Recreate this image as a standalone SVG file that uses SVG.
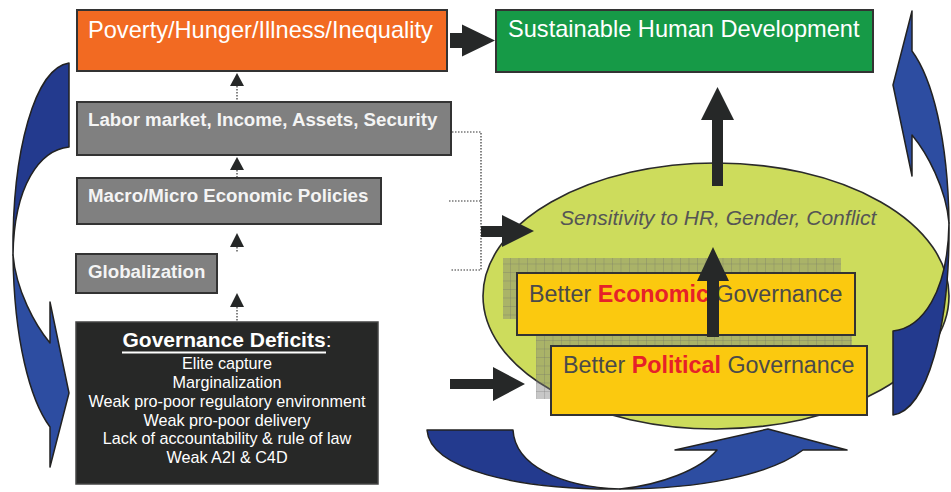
<svg xmlns="http://www.w3.org/2000/svg" width="951" height="492" viewBox="0 0 951 492">
  <style>
    text { font-family: "Liberation Sans", Arial, sans-serif; }
    .box { stroke: #333; stroke-width: 2; }
    .head { fill: #262828; }
    .dots { stroke: #333; stroke-width: 1.2; stroke-dasharray: 1.5 1.5; fill: none; }
    .white { fill: #fff; }
    .gray-bold { fill: #f4f4f4; font-weight: bold; font-size: 18.7px; }
    .gov { fill: #fff; font-size: 16.2px; text-anchor: middle; }
    .yel { fill: #4a4a4a; font-size: 23.3px; }
    .red { fill: #e62129; font-weight: bold; }
    .blue-back { fill: #233a8e; stroke: #222; stroke-width: 1.5; stroke-linejoin: round; }
    .blue-front { fill: #2d4da1; stroke: #222; stroke-width: 1.5; stroke-linejoin: round; }
    .shade { fill: #7a7a7a; fill-opacity: 0.42; }
  </style>
  <defs>
    <pattern id="grid" width="8.5" height="8.5" patternUnits="userSpaceOnUse">
      <path d="M0,0.5 H8.5 M0.5,0 V8.5" stroke="#666" stroke-opacity="0.28" stroke-width="0.9" fill="none"/>
    </pattern>
    <!-- curved arrow along the left edge: back band + front band with head -->
    <g id="curved-arrow">
      <path class="blue-back" d="M69,63 L69,147 C40,150 14,185 13,255 C12,150 35,68 69,63 Z"/>
      <path class="blue-front" d="M13,255 C16,290 35,325 50,343 L50,302 L69,393 L50,467 L50,427 C30,400 14,340 13,255 Z"/>
    </g>
  </defs>

  <!-- circular feedback arrows -->
  <g id="loop-left">
    <use href="#curved-arrow"/>
  </g>

  <!-- governance ellipse -->
  <g id="ellipse">
    <ellipse cx="716" cy="296" rx="233" ry="133" fill="#cddc5c" stroke="#2a2a2a" stroke-width="1.6"/>
    <text x="560" y="225" font-size="21px" font-style="italic" fill="#555">Sensitivity to HR, Gender, Conflict</text>
  </g>

  <g id="economic">
    <rect class="shade" x="503" y="258" width="338" height="61"/>
    <rect x="503" y="258" width="338" height="61" fill="url(#grid)"/>
    <rect class="box" x="517" y="273" width="338" height="62" fill="#fbc90f"/>
    <text class="yel" x="529" y="302">Better <tspan class="red">Economic</tspan> Governance</text>
  </g>

  <g id="political">
    <rect class="shade" x="536" y="336" width="316" height="63"/>
    <rect x="536" y="336" width="316" height="63" fill="url(#grid)"/>
    <rect class="box" x="551" y="346" width="316" height="69" fill="#fbc90f"/>
    <text class="yel" x="563" y="373">Better <tspan class="red">Political</tspan> Governance</text>
  </g>

  <g id="loop-right">
    <use href="#curved-arrow" transform="rotate(180 481 239)"/>
  </g>

  <g id="loop-bottom">
    <path class="blue-back" d="M427,430 L513,430 C515,465 560,487 620,489 C520,490 430,470 427,430 Z"/>
    <path class="blue-front" d="M620,489 C660,485 700,470 717,450 L675,450 L768,429 L847,450 L803,450 C770,475 700,489 620,489 Z"/>
  </g>

  <!-- left column -->
  <g id="poverty">
    <rect class="box" x="77" y="10" width="370" height="61" fill="#f26a22"/>
    <text class="white" x="88" y="38" font-size="23.6px">Poverty/Hunger/Illness/Inequality</text>
  </g>
  <g id="labor">
    <rect class="box" x="77" y="102" width="374" height="53" fill="#808080"/>
    <text class="gray-bold" x="88" y="126">Labor market, Income, Assets, Security</text>
  </g>
  <g id="macro">
    <rect class="box" x="77" y="178" width="304" height="46" fill="#808080"/>
    <text class="gray-bold" x="88" y="202">Macro/Micro Economic Policies</text>
  </g>
  <g id="globalization">
    <rect class="box" x="76" y="254" width="141" height="39" fill="#808080"/>
    <text class="gray-bold" x="88" y="278">Globalization</text>
  </g>
  <g id="deficits">
    <rect x="76" y="322" width="302" height="162" fill="#272827" stroke="#444" stroke-width="1.5"/>
    <text x="227" y="347" font-size="21px" fill="#fff" text-anchor="middle"><tspan font-weight="bold">Governance Deficits</tspan>:</text>
    <line x1="122" y1="352.5" x2="326" y2="352.5" stroke="#fff" stroke-width="1.8"/>
    <text class="gov" x="227" y="369">Elite capture</text>
    <text class="gov" x="227" y="388">Marginalization</text>
    <text class="gov" x="227" y="407">Weak pro-poor regulatory environment</text>
    <text class="gov" x="227" y="426">Weak pro-poor delivery</text>
    <text class="gov" x="227" y="444">Lack of accountability &amp; rule of law</text>
    <text class="gov" x="227" y="463">Weak A2I &amp; C4D</text>
  </g>

  <g id="sustainable">
    <rect class="box" x="496" y="10" width="377" height="62" fill="#169a47"/>
    <text class="white" x="508" y="37" font-size="23.6px">Sustainable Human Development</text>
  </g>

  <!-- connectors -->
  <g id="connectors">
    <!-- dotted causal chain -->
    <line class="dots" x1="237" y1="86" x2="237" y2="101"/>
    <polygon class="head" points="237,73 230,86 244,86"/>
    <line class="dots" x1="237" y1="170" x2="237" y2="178"/>
    <polygon class="head" points="237,157 230,170 244,170"/>
    <line class="dots" x1="237" y1="247" x2="237" y2="253"/>
    <polygon class="head" points="237,233 230,247 244,247"/>
    <line class="dots" x1="237" y1="307" x2="237" y2="322"/>
    <polygon class="head" points="237,293 230,307 244,307"/>

    <!-- dotted bracket -->
    <path class="dots" d="M452,132 H481 V270 H450 M449,201 H481"/>

    <!-- block arrows -->
    <polygon class="head" points="450,33 462,33 462,24.5 495,40.5 462,56.5 462,48 450,48"/>
    <polygon class="head" points="481,226 502,226 502,215 534,231 502,247 502,237 481,237"/>
    <polygon class="head" points="450,379 493,379 493,367 525,384 493,401 493,389 450,389"/>
    <polygon class="head" points="712,186 712,120 701,120 717.5,87 734,120 723,120 723,186"/>
    <polygon class="head" points="707,337 707,281 697,281 713,247 729,281 719,281 719,337"/>
  </g>
</svg>
